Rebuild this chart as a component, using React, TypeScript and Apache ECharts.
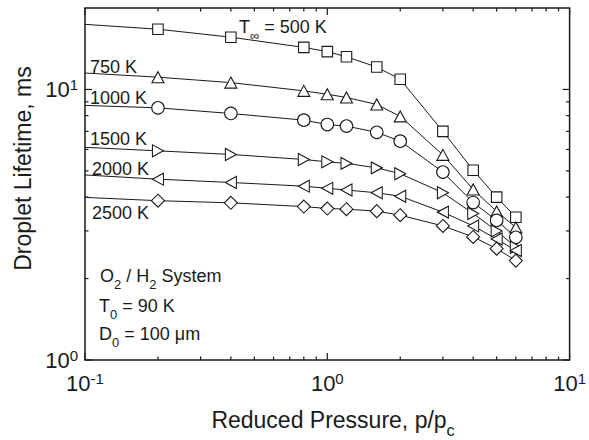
import React, { useEffect, useRef } from 'react';
import * as echarts from 'echarts';

// Reduced pressure p/pc (first point is the line start at the left axis, no marker)
const pressures = [0.1, 0.2, 0.4, 0.8, 1.0, 1.2, 1.6, 2.0, 3, 4, 5, 6];
// Droplet lifetime (ms) for each ambient temperature
const life500 = [17.4, 16.7, 15.6, 14.3, 13.8, 13.2, 12.1, 10.9, 7.0, 5.03, 4.0, 3.37];
const life750 = [11.5, 11.1, 10.6, 9.88, 9.6, 9.34, 8.8, 7.95, 5.73, 4.27, 3.54, 3.09];
const life1000 = [8.73, 8.55, 8.15, 7.7, 7.42, 7.32, 6.94, 6.44, 4.95, 3.82, 3.28, 2.84];
const life1500 = [6.11, 5.93, 5.75, 5.51, 5.4, 5.33, 5.13, 4.88, 4.15, 3.48, 3.0, 2.61];
const life2000 = [4.83, 4.66, 4.53, 4.39, 4.31, 4.25, 4.15, 4.03, 3.52, 3.13, 2.8, 2.54];
const life2500 = [3.99, 3.88, 3.81, 3.69, 3.63, 3.61, 3.55, 3.43, 3.13, 2.85, 2.58, 2.33];

// Axis tick values
const xMajorTicks = [0.1, 1, 10];
const xMinorTicks = [0.2, 0.3, 0.4, 0.5, 0.6, 0.7, 0.8, 0.9, 2, 3, 4, 5, 6, 7, 8, 9];
const yMajorTicks = [1, 10];
const yMinorTicks = [2, 3, 4, 5, 6, 7, 8, 9];

const FONT = "'Liberation Sans', Arial, Helvetica, sans-serif";
const INK = '#1a1a1a';

const seriesDefs = [
  { name: '500 K', data: life500, symbol: 'rect', size: 10.5, rotate: 0 },
  { name: '750 K', data: life750, symbol: 'triangle', size: [12, 11], rotate: 0 },
  { name: '1000 K', data: life1000, symbol: 'circle', size: 12.5, rotate: 0 },
  { name: '1500 K', data: life1500, symbol: 'triangle', size: [12, 11], rotate: -90 },
  { name: '2000 K', data: life2000, symbol: 'triangle', size: [12, 11], rotate: 90 },
  { name: '2500 K', data: life2500, symbol: 'diamond', size: 13, rotate: 0 },
];

const AFS = 18;
const annRich = {
  n: { fontSize: AFS, fontFamily: FONT, fill: INK, lineHeight: 29, verticalAlign: 'middle' },
  sub: { fontSize: 13, fontFamily: FONT, fill: INK, lineHeight: 14, verticalAlign: 'bottom' },
};

const annotations = [
  { text: '{n|T}{sub|∞}{n| = 500 K}', x: 239, y: 27 },
  { text: '{n|750 K}', x: 90, y: 67 },
  { text: '{n|1000 K}', x: 90, y: 98 },
  { text: '{n|1500 K}', x: 90, y: 138.5 },
  { text: '{n|2000 K}', x: 92, y: 169 },
  { text: '{n|2500 K}', x: 92, y: 213 },
  { text: '{n|O}{sub|2}{n| / H}{sub|2}{n| System}', x: 100, y: 276 },
  { text: '{n|T}{sub|0}{n| = 90 K}', x: 99, y: 306 },
  { text: '{n|D}{sub|0}{n| = 100 μm}', x: 99, y: 334 },
];

const tickRich = {
  b: { fontSize: 22, fontFamily: FONT, color: INK, lineHeight: 25, verticalAlign: 'middle' },
  s: { fontSize: 15, fontFamily: FONT, color: INK, lineHeight: 15, verticalAlign: 'top' },
};

function powLabel(v: number): string {
  const e = Math.log10(v);
  const r = Math.round(e);
  if (Math.abs(e - r) > 1e-6) return '';
  return `{b|10}{s|${r}}`;
}

export default function App() {
  const ref = useRef<HTMLDivElement>(null);
  useEffect(() => {
    const chart = echarts.init(ref.current!, undefined, { renderer: 'svg' });
    const lineSeries = seriesDefs.map((d) => ({
      type: 'line',
      name: d.name,
      data: pressures.map((p, i) =>
        i === 0 ? { value: [p, d.data[i]], symbol: 'none' } : [p, d.data[i]]
      ),
      symbol: d.symbol,
      symbolSize: d.size,
      symbolRotate: d.rotate,
      showAllSymbol: true,
      lineStyle: { color: INK, width: 1 },
      itemStyle: { color: '#ffffff', borderColor: INK, borderWidth: 1.1 },
      z: 3,
    }));

    const tickSeries = {
      type: 'custom',
      coordinateSystem: 'cartesian2d',
      silent: true,
      z: 4,
      data: [[1, 1]],
      renderItem: (params: any, api: any) => {
        const cs = params.coordSys;
        const L = cs.x, R = cs.x + cs.width, T = cs.y, B = cs.y + cs.height;
        const children: any[] = [];
        const add = (x1: number, y1: number, x2: number, y2: number) =>
          children.push({ type: 'line', shape: { x1, y1, x2, y2 }, style: { stroke: INK, lineWidth: 1.2 } });
        const xt = (v: number, len: number) => {
          const px = api.coord([v, 1])[0];
          add(px, B, px, B - len);
          add(px, T, px, T + len);
        };
        const yt = (v: number, len: number) => {
          const py = api.coord([1, v])[1];
          add(L, py, L + len, py);
          add(R, py, R - len, py);
        };
        xMajorTicks.forEach((v) => xt(v, 7));
        xMinorTicks.forEach((v) => xt(v, 3.5));
        yMajorTicks.forEach((v) => yt(v, 7));
        yMinorTicks.forEach((v) => yt(v, 3.5));
        return { type: 'group', children };
      },
    };

    const axisLabelBase = { fontSize: 22, fontFamily: FONT, color: INK, formatter: powLabel, rich: tickRich };

    const option: any = {
      animation: false,
      backgroundColor: '#ffffff',
      grid: {
        left: 85, right: 14, top: 8, bottom: 80,
        show: true, borderColor: INK, borderWidth: 1.5, backgroundColor: 'transparent',
      },
      xAxis: {
        type: 'log', logBase: 10, min: 0.1, max: 10,
        axisLine: { show: false }, axisTick: { show: false },
        splitLine: { show: false }, minorTick: { show: false },
        axisLabel: { ...axisLabelBase, margin: 11 },
      },
      yAxis: {
        type: 'log', logBase: 10, min: 1, max: 20,
        axisLine: { show: false }, axisTick: { show: false },
        splitLine: { show: false }, minorTick: { show: false },
        axisLabel: { ...axisLabelBase, margin: 7 },
      },
      graphic: [
        ...annotations.map((a) => ({
          type: 'text', x: a.x, y: a.y, z: 10,
          style: { text: a.text, rich: annRich, align: 'left', verticalAlign: 'middle', fill: INK, font: `${AFS}px ${FONT}` },
        })),
        {
          type: 'text', x: 23, y: 168.5, rotation: Math.PI / 2, z: 10,
          style: { text: 'Droplet Lifetime, ms', fill: INK, font: `23px ${FONT}`, align: 'center', verticalAlign: 'middle' },
        },
        {
          type: 'text', x: 333, y: 420, z: 10,
          style: {
            text: '{m|Reduced Pressure, p/p}{c|c}',
            align: 'center', verticalAlign: 'middle', fill: INK,
            rich: {
              m: { fontSize: 23, fontFamily: FONT, fill: INK, lineHeight: 36, verticalAlign: 'middle' },
              c: { fontSize: 16, fontFamily: FONT, fill: INK, lineHeight: 16, verticalAlign: 'bottom' },
            },
          },
        },
      ],
      series: [...lineSeries, tickSeries],
    };
    chart.setOption(option);
    return () => chart.dispose();
  }, []);
  return <div ref={ref} style={{ position: 'fixed', left: 0, top: 0, width: 589, height: 440 }} />;
}
